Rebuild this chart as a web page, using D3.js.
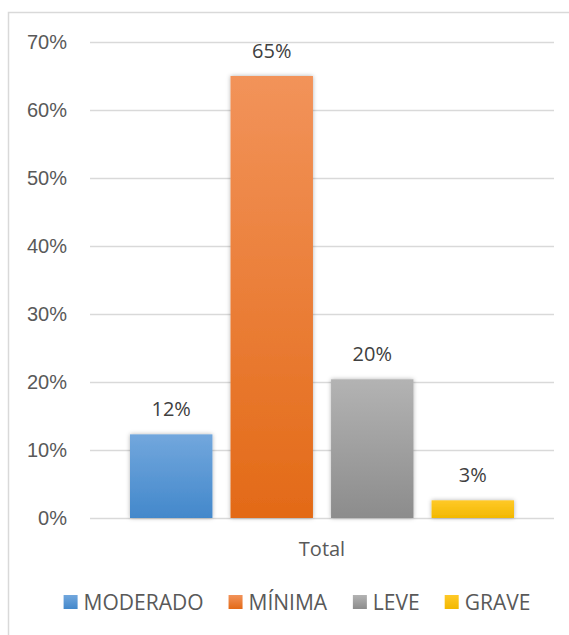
<!DOCTYPE html>
<html>
<head>
<meta charset="utf-8">
<script src="https://cdn.jsdelivr.net/npm/d3@7"></script>
<style>
  body { margin: 0; background: #fff; }
  svg { display: block; font-family: "Open Sans", sans-serif; }
</style>
</head>
<body>
<svg id="chart" width="569" height="635"></svg>
<script>
// data
var categories = ["MODERADO", "MÍNIMA", "LEVE", "GRAVE"];
var values = [0.123, 0.65, 0.204, 0.026];
var labels = ["12%", "65%", "20%", "3%"];
var yTicks = [0, 0.1, 0.2, 0.3, 0.4, 0.5, 0.6, 0.7];
var groupName = "Total";
var colorsTop = ["#72a7dd", "#f2935a", "#b3b3b3", "#ffc928"];
var colorsBottom = ["#4388cb", "#e36a17", "#8c8c8c", "#f2b800"];

var svg = d3.select("#chart");
var margin = {top: 42, left: 90, right: 15, bottom: 117};
var width = +svg.attr("width") - margin.left - margin.right,
    height = +svg.attr("height") - margin.top - margin.bottom;

// chart border
svg.append("rect")
    .attr("x", 8.5).attr("y", 12.5)
    .attr("width", 600).attr("height", 700)
    .attr("fill", "#fff").attr("stroke", "#d9d9d9").attr("stroke-width", 1.5);

var defs = svg.append("defs");
categories.forEach(function (c, i) {
    var g = defs.append("linearGradient")
        .attr("id", "grad" + i)
        .attr("x1", 0).attr("y1", 0).attr("x2", 0).attr("y2", 1);
    g.append("stop").attr("offset", "0%").attr("stop-color", colorsTop[i]);
    g.append("stop").attr("offset", "100%").attr("stop-color", colorsBottom[i]);
});
var shadow = defs.append("filter").attr("id", "shadow")
    .attr("x", "-20%").attr("y", "-20%").attr("width", "140%").attr("height", "140%");
shadow.append("feDropShadow")
    .attr("dx", 0).attr("dy", 0).attr("stdDeviation", 2)
    .attr("flood-color", "#000").attr("flood-opacity", 0.3);

var g = svg.append("g").attr("transform", "translate(" + margin.left + "," + margin.top + ")");

var y = d3.scaleLinear().domain([0, 0.7]).range([height, 0]);
var x0 = d3.scaleBand().domain([groupName]).range([0, width]);
var x = d3.scaleBand().domain(categories)
    .range([x0(groupName) + 40, x0(groupName) + x0.bandwidth() - 40])
    .paddingInner(0.18);

// grid
var yAxis = g.append("g")
    .call(d3.axisLeft(y).tickValues(yTicks).tickFormat(d3.format(".0%")).tickSize(-width).tickPadding(23));
yAxis.select(".domain").remove();
yAxis.selectAll(".tick line").attr("stroke", "#d9d9d9").attr("stroke-width", 1.5);
yAxis.selectAll(".tick text").attr("fill", "#595959").style("font-size", "20px");

// bars
g.selectAll(".bar")
    .data(values)
    .enter().append("rect")
    .attr("class", "bar")
    .attr("x", function (d, i) { return x(categories[i]); })
    .attr("y", function (d) { return y(d); })
    .attr("width", x.bandwidth())
    .attr("height", function (d) { return height - y(d); })
    .attr("fill", function (d, i) { return "url(#grad" + i + ")"; })
    .attr("filter", "url(#shadow)");

// data labels
g.selectAll(".lbl")
    .data(values)
    .enter().append("text")
    .attr("class", "lbl")
    .attr("x", function (d, i) { return x(categories[i]) + x.bandwidth() / 2; })
    .attr("y", function (d) { return y(d) - 18; })
    .attr("text-anchor", "middle")
    .attr("fill", "#404040")
    .style("font-size", "20px")
    .text(function (d, i) { return labels[i]; });

// category axis label
g.append("text")
    .attr("x", x0(groupName) + x0.bandwidth() / 2)
    .attr("y", height + 38)
    .attr("text-anchor", "middle")
    .attr("fill", "#595959")
    .style("font-size", "20px")
    .text(groupName);

// legend
var legend = svg.append("g").attr("transform", "translate(0,602)");
var items = legend.selectAll(".item")
    .data(categories)
    .enter().append("g").attr("class", "item");
items.append("rect")
    .attr("x", 0).attr("y", -7)
    .attr("width", 14).attr("height", 14)
    .attr("fill", function (d, i) { return "url(#grad" + i + ")"; });
items.append("text")
    .attr("x", 20).attr("y", 7.5)
    .attr("fill", "#595959")
    .style("font-size", "21px")
    .text(function (d) { return d; });
var offsets = [], pos = 0;
items.each(function () {
    offsets.push(pos);
    pos += this.getBBox().width + 25;
});
var total = pos - 25;
var start = 297 - total / 2;
items.attr("transform", function (d, i) { return "translate(" + (start + offsets[i]) + ",0)"; });
</script>
</body>
</html>
